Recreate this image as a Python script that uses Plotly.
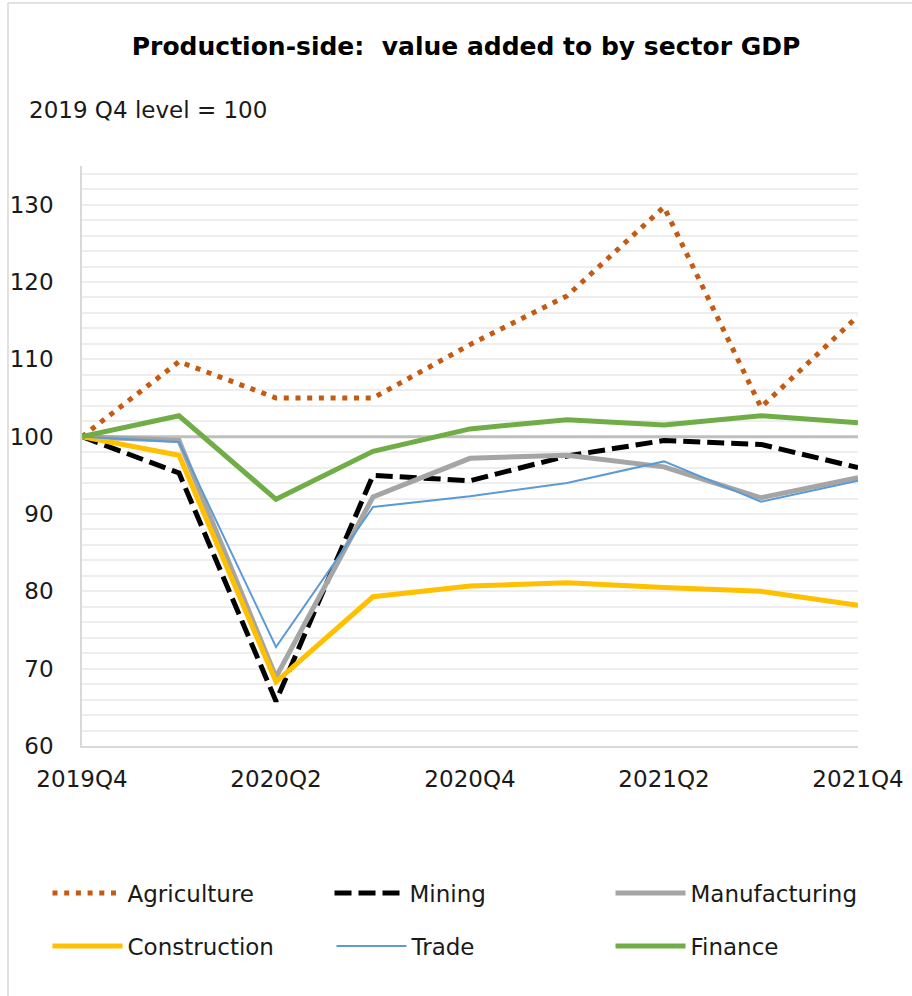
import plotly.graph_objects as go

# Quarterly index of value added by sector (2019 Q4 = 100)
quarters = ["2019Q4", "2020Q1", "2020Q2", "2020Q3", "2020Q4",
            "2021Q1", "2021Q2", "2021Q3", "2021Q4"]
tick_quarters = ["2019Q4", "2020Q2", "2020Q4", "2021Q2", "2021Q4"]

agriculture = [100, 109.7, 105.0, 105.0, 111.9, 118.2, 129.7, 103.8, 115.6]
mining = [100, 95.3, 65.8, 95.0, 94.3, 97.5, 99.5, 99.0, 96.0]
manufacturing = [100, 99.5, 68.9, 92.2, 97.2, 97.6, 96.1, 92.1, 94.7]
construction = [100, 97.6, 68.3, 79.3, 80.7, 81.1, 80.5, 80.0, 78.2]
trade = [100, 99.3, 72.8, 90.9, 92.3, 94.0, 96.8, 91.6, 94.3]
finance = [100, 102.7, 91.9, 98.1, 101.0, 102.2, 101.5, 102.7, 101.8]

BASE_LEVEL = 100

FONT = "DejaVu Sans"
TXT = "#1a1a1a"

# plot-area geometry in pixels, used to place decorations in paper units
L, R, T, B, W, H = 82, 54, 166, 250, 912, 996
PW, PH = W - L - R, H - T - B


def px_x(px):
    return (px - L) / PW


def px_y(py):
    return (H - B - py) / PH


fig = go.Figure()

# reference level line, drawn beneath the sector series
fig.add_trace(go.Scatter(x=quarters, y=[BASE_LEVEL] * len(quarters), mode="lines",
                         line=dict(color="#BFBFBF", width=3),
                         showlegend=False, hoverinfo="skip"))

# name, values, line style, legend id, legend symbol left edge (px), legend row centre (px)
series = [
    ("Agriculture", agriculture, dict(color="#C55A11", width=5, dash="5px,6.7px"), "legend", 52, 893),
    ("Mining", mining, dict(color="#000000", width=5, dash="17px,7px"), "legend2", 334, 893),
    ("Manufacturing", manufacturing, dict(color="#A5A5A5", width=5), "legend3", 615, 893),
    ("Construction", construction, dict(color="#FFC000", width=5), "legend4", 52, 946),
    ("Trade", trade, dict(color="#5B9BD5", width=2), "legend5", 336, 946),
    ("Finance", finance, dict(color="#70AD47", width=5), "legend6", 615, 946),
]

legends = {}
for name, vals, line, leg, sx, sy in series:
    fig.add_trace(go.Scatter(x=quarters, y=vals, name=name, mode="lines",
                             line=line, legend=leg))
    legends[leg] = dict(orientation="h", xanchor="left", yanchor="middle",
                        x=px_x(sx - 4.5), y=px_y(sy), itemwidth=70,
                        font=dict(family=FONT, size=23, color=TXT),
                        bgcolor="rgba(0,0,0,0)")

# chart-area frame (top and left edges)
frame = dict(color="#D9D9D9", width=1.5)
fig.add_shape(type="line", xref="paper", yref="paper",
              x0=px_x(8), x1=px_x(1000), y0=px_y(3), y1=px_y(3), line=frame)
fig.add_shape(type="line", xref="paper", yref="paper",
              x0=px_x(8), x1=px_x(8), y0=px_y(1100), y1=px_y(3), line=frame)

fig.add_annotation(text="2019 Q4 level = 100", xref="paper", yref="paper",
                   x=px_x(27), y=px_y(110), xanchor="left", yanchor="middle",
                   showarrow=False, font=dict(family=FONT, size=23, color=TXT))

fig.update_layout(
    width=W, height=H,
    margin=dict(l=L, r=R, t=T, b=B, autoexpand=False),
    paper_bgcolor="white", plot_bgcolor="white",
    title=dict(text="<b>Production-side:  value added to by sector GDP</b>",
               x=0.511, xanchor="center", y=1 - 46 / H, yanchor="middle",
               font=dict(family=FONT, size=25, color="#000000")),
    font=dict(family=FONT, size=23, color=TXT),
    xaxis=dict(type="category", categoryorder="array", categoryarray=quarters,
               range=[0, len(quarters) - 1], tickmode="array",
               tickvals=tick_quarters, ticktext=tick_quarters,
               showgrid=False, zeroline=False, automargin=False,
               showline=True, linecolor="#D9D9D9", linewidth=1.5,
               ticks="outside", ticklen=12, tickcolor="rgba(0,0,0,0)",
               tickfont=dict(family=FONT, size=23, color=TXT)),
    yaxis=dict(range=[60, 135], tick0=60, dtick=10,
               showgrid=True, gridcolor="#EEEEEE", gridwidth=1.5,
               minor=dict(dtick=2, showgrid=True, gridcolor="#EEEEEE", gridwidth=1.5),
               zeroline=False, automargin=False,
               showline=True, linecolor="#D9D9D9", linewidth=1.5,
               ticks="outside", ticklen=22, tickcolor="rgba(0,0,0,0)",
               tickfont=dict(family=FONT, size=23, color=TXT)),
    **legends,
)

fig.write_html("out.html")
